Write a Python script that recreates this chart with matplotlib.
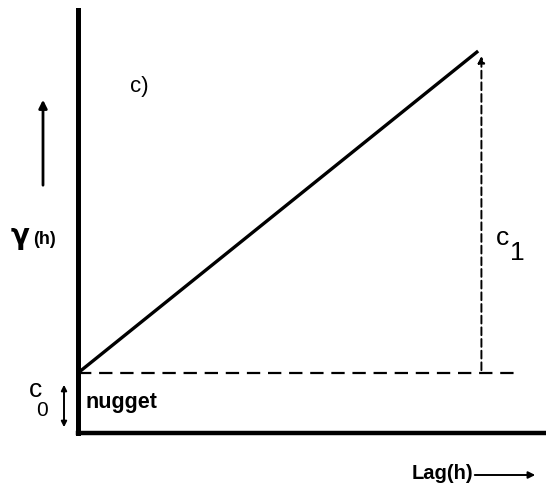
import matplotlib
matplotlib.use("Agg")
import matplotlib.pyplot as plt

# linear variogram model: nugget c0 plus a straight rise c1 over the lag range
lag = [0.0, 8.55]
gamma = [1.42, 9.03]
nugget = 1.42
dash_end = 9.44
xmax, ymax = 10.0, 10.0

W, H = 546, 490
fig = plt.figure(figsize=(W / 100, H / 100), dpi=100)
plt.rcParams['font.family'] = ['Liberation Sans', 'DejaVu Sans']


def fx(px):
    return px / W


def fy(py):
    return 1 - py / H


ax = fig.add_axes([fx(78), fy(433), 1 - fx(78), fy(10) - fy(433)])
ax.set_xlim(0, xmax)
ax.set_ylim(0, ymax)
ax.set_xticks([])
ax.set_yticks([])
for s in ['top', 'right']:
    ax.spines[s].set_visible(False)
ax.spines['left'].set_linewidth(3.6)
ax.spines['bottom'].set_linewidth(3.2)
ax.patch.set_alpha(0)

# model line and nugget level
ax.plot(lag, gamma, color='black', lw=2.4, solid_capstyle='butt', clip_on=False)
ax.plot([0, dash_end], [nugget, nugget], color='black', lw=1.6,
        dashes=(6, 3.5), clip_on=False)

# c1 span: dashed arrow from nugget level to the top of the line
ax.annotate('', xy=(lag[1] + 0.07, gamma[1] - 0.05), xytext=(lag[1] + 0.07, nugget),
            arrowprops=dict(arrowstyle='-|>', color='black', lw=1.4,
                            linestyle=(0, (4, 2)), mutation_scale=10))

ax.text(1.3, 8.2, 'c)', fontsize=16, ha='center', va='center')
ax.text(0.15, 0.72, 'nugget', fontsize=15.5, fontweight='bold', ha='left', va='center')
ax.text(9.08, 4.6, 'c', fontsize=19, ha='center', va='center')
ax.text(9.38, 4.25, '1', fontsize=19, ha='center', va='center')

# labels outside the axes
fig.text(fx(20), fy(236), 'γ', fontsize=20, fontweight='bold',
         family='DejaVu Sans', ha='center', va='center')
fig.text(fx(45), fy(239), '(h)', fontsize=13, fontweight='bold', ha='center', va='center')
fig.text(fx(36), fy(390), 'c', fontsize=19, ha='center', va='center')
fig.text(fx(42), fy(410), '0', fontsize=15, ha='center', va='center')
fig.text(fx(442), fy(473), 'Lag(h)', fontsize=14.5, fontweight='bold',
         ha='center', va='center')

ax.annotate('', xy=(fx(43), fy(97)), xytext=(fx(43), fy(188)),
            xycoords='figure fraction', textcoords='figure fraction',
            arrowprops=dict(arrowstyle='-|>', color='black', lw=2,
                            mutation_scale=12), annotation_clip=False)
ax.annotate('', xy=(fx(538), fy(475)), xytext=(fx(472), fy(475)),
            xycoords='figure fraction', textcoords='figure fraction',
            arrowprops=dict(arrowstyle='-|>', color='black', lw=1.4,
                            mutation_scale=10), annotation_clip=False)
ax.annotate('', xy=(fx(64), fy(382)), xytext=(fx(64), fy(430)),
            xycoords='figure fraction', textcoords='figure fraction',
            arrowprops=dict(arrowstyle='<|-|>', color='black', lw=1.4,
                            mutation_scale=8), annotation_clip=False)

fig.savefig('out.png', dpi=100, facecolor='white')
